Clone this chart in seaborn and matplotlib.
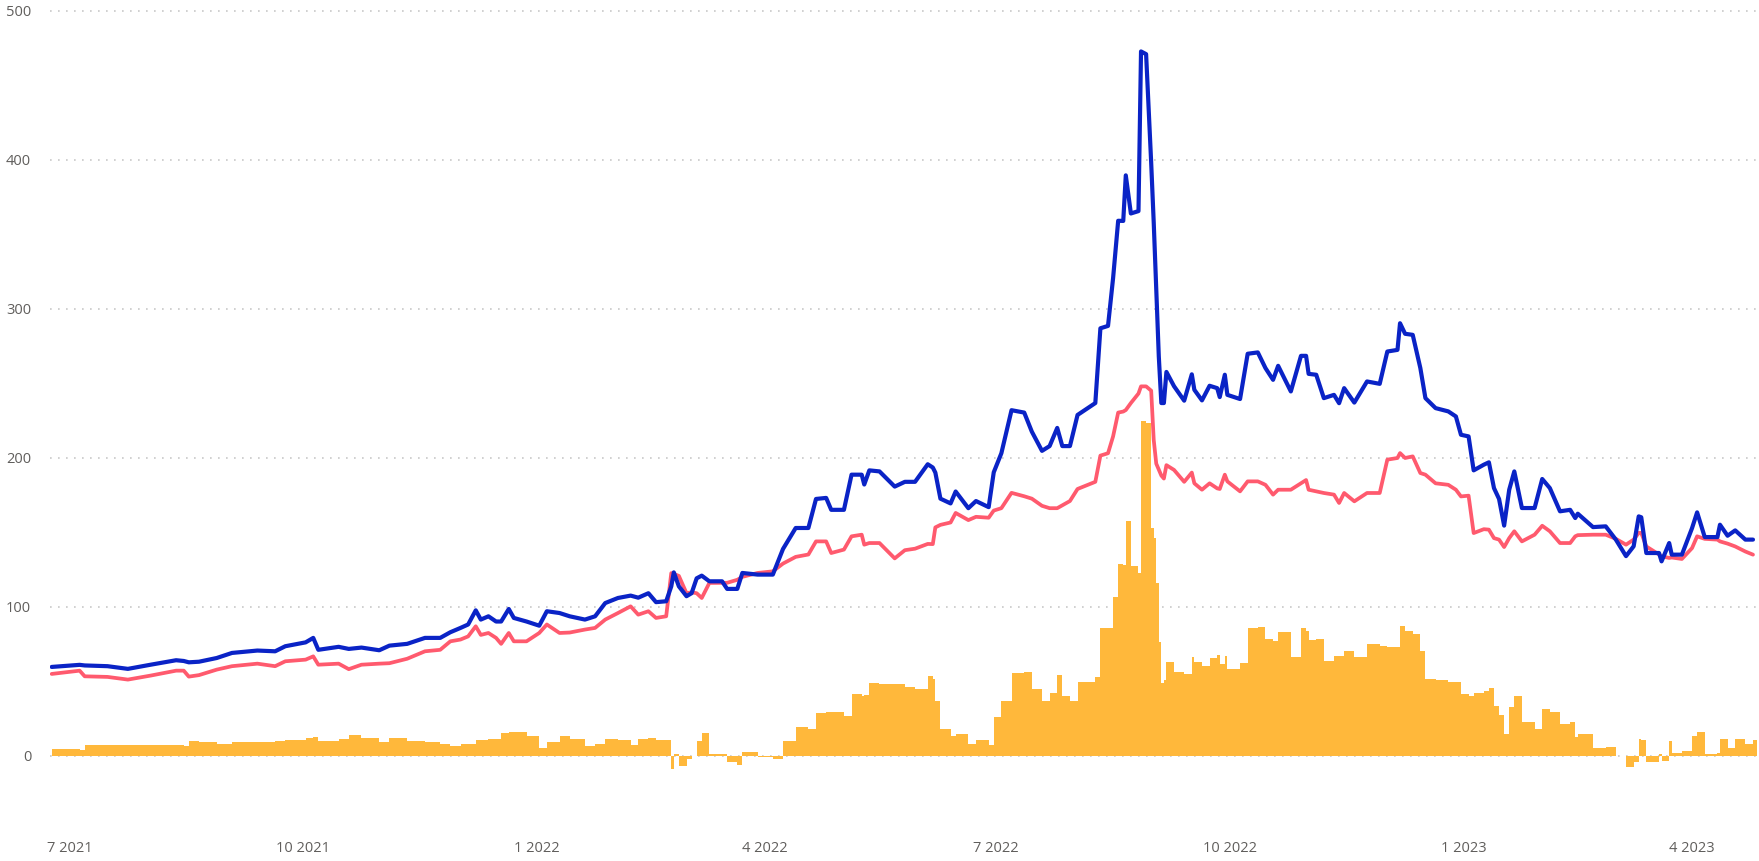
import numpy as np
import pandas as pd
import matplotlib
matplotlib.use("Agg")
import matplotlib.pyplot as plt
import matplotlib.dates as mdates
import seaborn as sns

# ---------------- data ----------------
dates = [
    "2021-06-24", "2021-07-05", "2021-07-07", "2021-07-16", "2021-07-24", "2021-08-02",
    "2021-08-12", "2021-08-15", "2021-08-17", "2021-08-21", "2021-08-28", "2021-09-03",
    "2021-09-13", "2021-09-20", "2021-09-24", "2021-10-02", "2021-10-05", "2021-10-07",
    "2021-10-15", "2021-10-19", "2021-10-24", "2021-10-31", "2021-11-04", "2021-11-11",
    "2021-11-18", "2021-11-24", "2021-11-28", "2021-12-02", "2021-12-05", "2021-12-08",
    "2021-12-10", "2021-12-13", "2021-12-16", "2021-12-18", "2021-12-21", "2021-12-23",
    "2021-12-28", "2022-01-02", "2022-01-05", "2022-01-10", "2022-01-14", "2022-01-20",
    "2022-01-24", "2022-01-28", "2022-02-02", "2022-02-07", "2022-02-10", "2022-02-14",
    "2022-02-17", "2022-02-21", "2022-02-23", "2022-02-24", "2022-02-26", "2022-03-01",
    "2022-03-03", "2022-03-05", "2022-03-07", "2022-03-10", "2022-03-15", "2022-03-17",
    "2022-03-21", "2022-03-23", "2022-03-29", "2022-04-04", "2022-04-08", "2022-04-13",
    "2022-04-18", "2022-04-21", "2022-04-25", "2022-04-27", "2022-05-02", "2022-05-05",
    "2022-05-09", "2022-05-10", "2022-05-12", "2022-05-16", "2022-05-22", "2022-05-26",
    "2022-05-30", "2022-06-04", "2022-06-06", "2022-06-07", "2022-06-09", "2022-06-13",
    "2022-06-15", "2022-06-20", "2022-06-23", "2022-06-28", "2022-06-30", "2022-07-03",
    "2022-07-07", "2022-07-12", "2022-07-15", "2022-07-19", "2022-07-22", "2022-07-25",
    "2022-07-27", "2022-07-30", "2022-08-02", "2022-08-09", "2022-08-11", "2022-08-14",
    "2022-08-16", "2022-08-18", "2022-08-20", "2022-08-21", "2022-08-23", "2022-08-26",
    "2022-08-27", "2022-08-29", "2022-08-31", "2022-09-01", "2022-09-02", "2022-09-03",
    "2022-09-04", "2022-09-05", "2022-09-06", "2022-09-09",
    "2022-09-13", "2022-09-16", "2022-09-17", "2022-09-20", "2022-09-23", "2022-09-26",
    "2022-09-27", "2022-09-29", "2022-09-30", "2022-10-05", "2022-10-08", "2022-10-12",
    "2022-10-15", "2022-10-18", "2022-10-20", "2022-10-25", "2022-10-29", "2022-10-31",
    "2022-11-01", "2022-11-04", "2022-11-07", "2022-11-11", "2022-11-13", "2022-11-15",
    "2022-11-19", "2022-11-24", "2022-11-29", "2022-12-02", "2022-12-06", "2022-12-07",
    "2022-12-09", "2022-12-12", "2022-12-15", "2022-12-17", "2022-12-21", "2022-12-26",
    "2022-12-29", "2022-12-31", "2023-01-03", "2023-01-05", "2023-01-09", "2023-01-11",
    "2023-01-13", "2023-01-15", "2023-01-17", "2023-01-19", "2023-01-21", "2023-01-24",
    "2023-01-29", "2023-02-01", "2023-02-04", "2023-02-08", "2023-02-12", "2023-02-14",
    "2023-02-15", "2023-02-21", "2023-02-26", "2023-03-02", "2023-03-06", "2023-03-09",
    "2023-03-11", "2023-03-12", "2023-03-14", "2023-03-19", "2023-03-20", "2023-03-23",
    "2023-03-24", "2023-03-28", "2023-04-01", "2023-04-03", "2023-04-06", "2023-04-11",
    "2023-04-12", "2023-04-15", "2023-04-18", "2023-04-22", "2023-04-25",
]

blue_series = [
    59.5, 60.9, 60.5, 60.0, 58.2, 61.0,
    64.0, 63.5, 62.6, 63.0, 65.5, 68.9,
    70.5, 70.0, 73.4, 76.0, 79.0, 71.0,
    73.0, 71.6, 72.5, 70.7, 73.8, 75.0,
    79.0, 79.0, 82.8, 85.7, 88.0, 97.5,
    91.3, 93.5, 90.0, 90.0, 98.4, 92.4,
    90.0, 87.2, 96.9, 95.7, 93.5, 91.3,
    93.5, 102.4, 105.8, 107.4, 106.0, 109.0,
    103.0, 103.6, 113.6, 123.0, 113.6, 107.0,
    109.0, 119.0, 120.8, 117.0, 117.0, 111.9,
    111.9, 122.6, 121.5, 121.5, 138.7, 152.8,
    152.8, 172.3, 173.0, 165.0, 165.0, 188.6,
    188.6, 182.0, 191.5, 190.8, 180.6, 183.8,
    183.8, 195.6, 193.4, 190.0, 172.5, 169.3,
    177.3, 166.1, 170.9, 166.8, 190.2, 203.0,
    231.9, 230.3, 217.5, 204.6, 207.8, 220.0,
    207.8, 207.8, 228.7, 236.7, 286.9, 288.5,
    320.6, 359.1, 359.0, 389.6, 364.0, 365.6,
    472.8, 471.0, 398.0, 358.0, 312.0, 268.0,
    236.7, 236.7, 257.6, 248.0,
    238.3, 256.0, 245.6, 238.5, 248.3, 246.7,
    240.7, 255.7, 242.2, 239.4, 269.8, 270.7,
    260.2, 252.3, 261.7, 244.5, 268.4, 268.4,
    256.3, 255.7, 240.0, 242.2, 236.6, 246.7,
    237.0, 251.2, 249.6, 271.3, 272.4, 290.3,
    283.2, 282.5, 260.2, 240.0, 233.3, 231.1,
    227.7, 215.4, 214.3, 191.5, 195.3, 196.9,
    179.6, 172.3, 154.4, 178.5, 190.8, 166.2,
    166.2, 185.7, 179.6, 164.0, 165.0, 159.5,
    162.4, 153.4, 153.9, 145.0, 133.9, 140.5,
    160.6, 160.0, 136.0, 136.0, 130.4, 142.7,
    134.9, 134.9, 152.7, 163.3, 146.7, 146.7,
    155.0, 147.6, 151.2, 145.0, 145.0,
]

red_series = [
    54.8, 57.0, 53.2, 52.8, 51.0, 53.7,
    57.0, 57.0, 53.0, 54.0, 57.7, 60.0,
    61.7, 60.0, 63.3, 64.4, 66.6, 61.0,
    61.7, 58.0, 61.0, 61.7, 62.0, 65.0,
    70.0, 71.0, 76.7, 77.9, 80.0, 86.8,
    81.0, 82.3, 79.0, 75.0, 82.3, 76.7,
    76.7, 82.3, 88.0, 82.3, 82.6, 84.6,
    85.7, 91.3, 95.7, 100.2, 94.6, 96.9,
    92.4, 93.5, 122.5, 122.0, 120.6, 109.0,
    109.6, 109.0, 105.8, 115.9, 116.0, 116.0,
    118.0, 120.0, 122.6, 123.7, 128.9, 133.4,
    135.0, 143.8, 143.8, 136.0, 138.3, 147.2,
    148.3, 141.6, 142.7, 142.7, 132.4, 137.9,
    138.9, 142.1, 142.0, 153.2, 154.9, 156.5,
    162.9, 158.1, 160.3, 159.7, 164.5, 166.1,
    176.4, 174.1, 172.5, 167.7, 166.1, 166.1,
    168.0, 170.9, 179.0, 183.8, 201.4, 203.0,
    214.3, 230.3, 231.0, 232.0, 236.7, 243.1,
    247.9, 247.9, 245.0, 212.0, 196.0, 192.0,
    188.0, 186.0, 195.0, 191.8,
    183.8, 190.0, 182.8, 178.5, 182.8, 179.4,
    179.0, 188.6, 184.1, 177.4, 184.1, 184.1,
    181.8, 175.2, 178.5, 178.5, 182.8, 185.0,
    178.5, 177.4, 176.3, 175.2, 169.6, 176.3,
    170.7, 176.3, 176.3, 198.7, 199.8, 203.1,
    199.8, 200.9, 189.7, 188.6, 182.8, 181.8,
    178.5, 174.0, 174.5, 149.4, 152.0, 151.7,
    146.0, 145.0, 140.0, 146.0, 150.6, 143.8,
    148.3, 154.3, 150.6, 142.7, 142.7, 147.2,
    148.0, 148.3, 148.3, 145.5, 141.6, 145.0,
    149.5, 149.5, 140.4, 135.0, 133.8, 132.7,
    133.0, 132.0, 139.3, 147.2, 145.5, 145.0,
    143.8, 142.3, 140.4, 137.0, 134.9,
]

y_ticks = [0, 100, 200, 300, 400, 500]
x_tick_dates = ["2021-07-01", "2021-10-01", "2022-01-01", "2022-04-01",
                "2022-07-01", "2022-10-01", "2023-01-01", "2023-04-01"]
x_tick_labels = ["7 2021", "10 2021", "1 2022", "4 2022",
                 "7 2022", "10 2022", "1 2023", "4 2023"]

# ---------------- styling ----------------
BLUE = "#0A23C6"
RED = "#FF5A6E"
ORANGE = "#FFB83B"
GRID = "#C8C8C8"
TEXT = "#605E5C"

sns.set_theme(style="white")
plt.rcParams["font.family"] = ["Open Sans", "DejaVu Sans"]

df = pd.DataFrame({
    "date": pd.to_datetime(dates),
    "blue": blue_series,
    "red": red_series,
})
df["spread"] = df["blue"] - df["red"]

fig = plt.figure(figsize=(17.59, 8.61), dpi=100)
W, H = 1759, 861
ax = fig.add_axes([50 / W, 1 - 830 / H, (1757 - 50) / W, (830 - 3.5) / H])

# bars (spread) - each bar spans to the next observation
xnum = mdates.date2num(df["date"])
widths = np.append(np.diff(xnum), 2.0)
ax.bar(xnum, df["spread"], width=widths, align="edge", color=ORANGE,
       linewidth=0, zorder=2)

sns.lineplot(data=df, x="date", y="red", ax=ax, color=RED, linewidth=2.7,
             estimator=None, zorder=3)
sns.lineplot(data=df, x="date", y="blue", ax=ax, color=BLUE, linewidth=3.0,
             estimator=None, zorder=4)
for ln in ax.lines:
    ln.set_solid_joinstyle("round")
    ln.set_solid_capstyle("round")

ax.set_ylim(-50, 505)
ax.set_xlim(mdates.date2num(pd.Timestamp("2021-06-23 08:00")),
            mdates.date2num(pd.Timestamp("2023-04-26 14:00")))

ax.set_yticks(y_ticks)
ax.set_yticklabels([str(v) for v in y_ticks])
ax.set_xticks(mdates.date2num(pd.to_datetime(x_tick_dates)))
ax.set_xticklabels(x_tick_labels)

ax.tick_params(axis="both", length=0, labelsize=10.5, colors=TEXT)
ax.tick_params(axis="y", pad=13.5)
ax.tick_params(axis="x", pad=8.0)

ax.set_axisbelow(True)
ax.yaxis.grid(True, color=GRID, linestyle=(0, (1, 3.8)), linewidth=1.2)
ax.xaxis.grid(False)
for s in ax.spines.values():
    s.set_visible(False)
ax.set_xlabel("")
ax.set_ylabel("")
ax.patch.set_alpha(0)

fig.savefig("out.png", dpi=100)
